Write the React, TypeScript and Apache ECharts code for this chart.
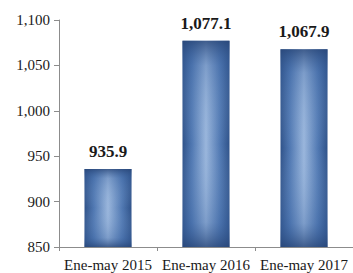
import React, { useEffect, useRef } from "react";
import * as echarts from "echarts";

const categories = ["Ene-may 2015", "Ene-may 2016", "Ene-may 2017"];
const values = [935.9, 1077.1, 1067.9];
const yTicks = [850, 900, 950, 1000, 1050, 1100];

export default function App() {
  const ref = useRef<HTMLDivElement>(null);
  useEffect(() => {
    const chart = echarts.init(ref.current!, null, { renderer: "svg" });
    const fmt = (v: number) =>
      v.toLocaleString("en-US", { minimumFractionDigits: 0, maximumFractionDigits: 0 });
    chart.setOption({
      animation: false,
      backgroundColor: "#ffffff",
      grid: { left: 59, right: -3, top: 20, bottom: 26, containLabel: false },
      xAxis: {
        type: "category",
        data: categories,
        axisLine: { lineStyle: { color: "#8c8c8c", width: 1 } },
        axisTick: { show: true, length: 4, lineStyle: { color: "#8c8c8c" } },
        axisLabel: {
          interval: 0,
          fontFamily: "Liberation Serif",
          fontSize: 15,
          color: "#1a1a1a",
          margin: 10,
        },
      },
      yAxis: {
        type: "value",
        min: yTicks[0],
        max: yTicks[yTicks.length - 1],
        interval: 50,
        splitLine: { show: false },
        axisLine: { show: true, lineStyle: { color: "#8c8c8c", width: 1 } },
        axisTick: { show: true, length: 5, lineStyle: { color: "#8c8c8c" } },
        axisLabel: {
          fontFamily: "Liberation Serif",
          fontSize: 15,
          color: "#1a1a1a",
          margin: 9,
          formatter: (v: number) => fmt(v),
        },
      },
      series: [
        {
          type: "bar",
          data: values,
          barWidth: 47,
          itemStyle: {
            color: new echarts.graphic.LinearGradient(0, 0, 1, 0, [
              { offset: 0, color: "#2f5289" },
              { offset: 0.2, color: "#5078b2" },
              { offset: 0.5, color: "#9ab6dc" },
              { offset: 0.8, color: "#5078b2" },
              { offset: 1, color: "#2f5289" },
            ]),
          },
          label: { show: false },
          z: 2,
        },
        {
          type: "bar",
          data: values,
          barWidth: 47,
          barGap: "-100%",
          itemStyle: {
            color: new echarts.graphic.LinearGradient(0, 0, 0, 1, [
              { offset: 0, color: "rgba(40,70,120,0.8)" },
              { offset: 0.12, color: "rgba(60,100,160,0.3)" },
              { offset: 0.5, color: "rgba(160,190,225,0)" },
              { offset: 0.88, color: "rgba(60,100,160,0.3)" },
              { offset: 1, color: "rgba(40,70,120,0.8)" },
            ]),
          },
          label: {
            show: true,
            position: "top",
            distance: 9,
            fontFamily: "Liberation Serif",
            fontWeight: "bold",
            fontSize: 17,
            color: "#1a1a1a",
            formatter: (p: any) =>
              p.value.toLocaleString("en-US", { minimumFractionDigits: 1, maximumFractionDigits: 1 }),
          },
          z: 3,
        },
      ],
    });
    return () => chart.dispose();
  }, []);
  return (
    <div
      ref={ref}
      style={{ position: "fixed", left: 0, top: 0, width: 353, height: 273 }}
    />
  );
}
